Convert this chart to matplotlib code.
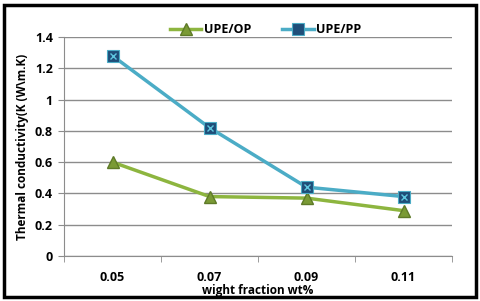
import matplotlib
matplotlib.use("Agg")
import matplotlib.pyplot as plt
from matplotlib.patches import Rectangle
import numpy as np

categories = ["0.05", "0.07", "0.09", "0.11"]
upe_op = [0.60, 0.38, 0.37, 0.29]
upe_pp = [1.28, 0.82, 0.44, 0.38]
yticks = [0, 0.2, 0.4, 0.6, 0.8, 1, 1.2, 1.4]
ytick_labels = ["0", "0.2", "0.4", "0.6", "0.8", "1", "1.2", "1.4"]

plt.rcParams['font.family'] = ['Open Sans', 'DejaVu Sans']

fig = plt.figure(figsize=(4.8, 3.01), dpi=100)
ax = fig.add_axes([64/480, 1-256/301, (452-64)/480, (256-37)/301])

x = np.arange(len(categories))
ax.plot(x, upe_op, color="#8DB53F", lw=2.5, marker="^", markersize=8,
        markerfacecolor="#7A9A35", markeredgecolor="#5E7A28", label="UPE/OP", zorder=3)
ax.plot(x, upe_pp, color="#4BACC6", lw=2.5, marker="s", markersize=8,
        markerfacecolor="#1F4E79", markeredgecolor="#4BACC6", markeredgewidth=0.8,
        label="UPE/PP", zorder=4)
ax.plot(x, upe_pp, ls="none", marker="x", markersize=5, markeredgecolor="#5FC8E0",
        markeredgewidth=1.0, zorder=5)

ax.set_xlim(-0.5, 3.5)
ax.set_ylim(0, 1.4)
ax.set_yticks(yticks)
ax.set_yticklabels(ytick_labels, fontsize=9, fontweight='bold')
ax.yaxis.grid(True, color="#8C8C8C", lw=1)
ax.set_axisbelow(True)

ax.set_xticks(x)
ax.set_xticklabels(categories, fontsize=9, fontweight='bold')
ax.set_xticks(np.arange(-0.5, 4.0, 1.0), minor=True)
ax.tick_params(axis='x', which='major', length=0, pad=11)
ax.tick_params(axis='x', which='minor', length=4, color="#8C8C8C")
ax.tick_params(axis='y', length=4, color="#8C8C8C", pad=4)

for s in ['top', 'right']:
    ax.spines[s].set_visible(False)
for s in ['left', 'bottom']:
    ax.spines[s].set_color("#8C8C8C")

ax.set_ylabel("Thermal conductivity(K (W\\m.K)", fontsize=8.5, fontweight='bold', labelpad=4)
ax.set_xlabel("wight fraction wt%", fontsize=8.5, fontweight='bold', labelpad=0)

leg = ax.legend(loc="lower center", bbox_to_anchor=(0.52, 0.98), ncol=2, frameon=False,
                prop={'size': 9, 'weight': 'bold'}, handlelength=2.5, columnspacing=2.5,
                borderaxespad=0, handletextpad=0.2)

fig.patches.append(Rectangle((4/480, 4/301), 472/480, 292/301, transform=fig.transFigure,
                             fill=False, edgecolor="black", lw=2.5))

fig.savefig("out.png", dpi=100)
